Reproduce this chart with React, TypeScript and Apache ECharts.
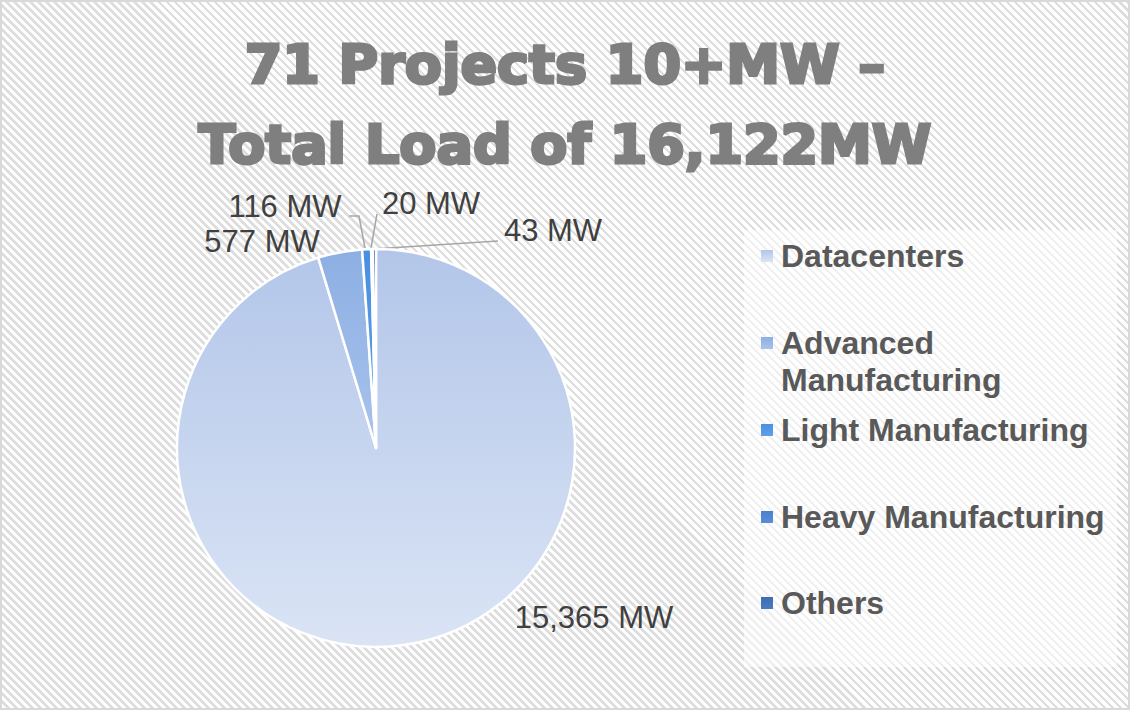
import React, { useEffect, useRef } from "react";
import * as echarts from "echarts";

const TITLE = "71 Projects 10+MW –\nTotal Load of 16,122MW";
const CATEGORIES = ["Datacenters", "Advanced Manufacturing", "Light Manufacturing", "Heavy Manufacturing", "Others"];
const VALUES = [15365, 577, 116, 20, 43];
const UNIT = "MW";
const COLORS_TOP = ["#b3c6e9", "#8cafe3", "#4a8fe0", "#4a7fcc", "#3f6db2"];
const COLORS_BOTTOM = ["#dae4f5", "#a9c3ec", "#62a0e8", "#5a8ed6", "#4c7bbf"];
const LEGEND_LABELS = ["Datacenters", "Advanced", "Light Manufacturing", "Heavy Manufacturing", "Others"];

// layout (label anchor positions and label-line points)
const LABEL_POS: [number, number][] = [[592, 615], [260, 239], [283, 204], [429, 201], [551, 228]];
const LABEL_LINES: (number[][] | null)[] = [
  null,
  null,
  [[363, 246], [357, 214], [347, 214]],
  [[369, 246], [375, 212]],
  [[371, 247], [496, 239]],
];
const LEGEND_Y = [254, 341, 428, 515, 601];

export default function App() {
  const ref = useRef<HTMLDivElement>(null);
  useEffect(() => {
    if (!ref.current) return;
    const chart = echarts.init(ref.current, null, { renderer: "svg" });
    const grad = (i: number) =>
      new echarts.graphic.LinearGradient(0, 0, 0, 1, [
        { offset: 0, color: COLORS_TOP[i] },
        { offset: 1, color: COLORS_BOTTOM[i] },
      ]);
    const data = CATEGORIES.map((name, i) => ({
      name,
      value: VALUES[i],
      itemStyle: { color: grad(i) },
      labelLine: { show: LABEL_LINES[i] !== null },
    }));
    const legends = CATEGORIES.map((name, i) => ({
      data: [name],
      left: 759,
      top: LEGEND_Y[i] - 18,
      padding: 0,
      orient: "vertical",
      icon: "rect",
      itemWidth: 12,
      itemHeight: 12,
      selectedMode: false,
      itemStyle: { borderWidth: 0 },
      formatter: () => LEGEND_LABELS[i],
      textStyle: {
        fontFamily: "Liberation Sans, Arial, sans-serif",
        fontWeight: "bold",
        fontSize: 32,
        lineHeight: 36,
        color: "#595959",
        padding: [0, 0, 0, 3],
      },
    }));
    chart.setOption({
      animation: false,
      backgroundColor: "transparent",
      title: {
        text: TITLE,
        left: "center",
        top: 17,
        textStyle: {
          fontFamily: "DejaVu Sans",
          fontWeight: "bold",
          fontSize: 54,
          lineHeight: 80,
          color: "#7f7f7f",
          textBorderColor: "#7f7f7f",
          textBorderWidth: 3,
        },
      },
      legend: legends,
      graphic: [
        {
          type: "rect",
          left: 742,
          top: 228,
          shape: { width: 373, height: 437 },
          style: { fill: "rgba(255,255,255,0.55)" },
          z: -1,
        },
        {
          type: "text",
          left: 779,
          top: 362,
          style: {
            text: "Manufacturing",
            font: "bold 32px 'Liberation Sans', Arial, sans-serif",
            fill: "#595959",
          },
        },
      ],
      series: [
        {
          type: "pie",
          center: [374, 446],
          radius: [0, 199],
          startAngle: 90,
          clockwise: true,
          data,
          itemStyle: { borderColor: "#ffffff", borderWidth: 2.5 },
          label: {
            show: true,
            formatter: (p: any) => `${Number(p.value).toLocaleString("en-US")} ${UNIT}`,
            fontFamily: "Liberation Sans, Arial, sans-serif",
            fontSize: 31,
            color: "#404040",
          },
          labelLine: { show: true, lineStyle: { color: "#a6a6a6", width: 1.5 } },
          labelLayout: (params: any) => {
            const i = params.dataIndex;
            const out: any = {
              x: LABEL_POS[i][0],
              y: LABEL_POS[i][1],
              align: "center",
              verticalAlign: "middle",
            };
            if (LABEL_LINES[i]) out.labelLinePoints = LABEL_LINES[i];
            return out;
          },
          emphasis: { disabled: true },
        },
      ],
    });
    return () => chart.dispose();
  }, []);
  return (
    <div
      style={{
        position: "absolute",
        left: 0,
        top: 0,
        width: 1130,
        height: 710,
        boxSizing: "border-box",
        border: "2px solid #d9d9d9",
        background:
          "repeating-linear-gradient(45deg, #ffffff 0px, #ffffff 3.2px, #dedede 3.2px, #dedede 5.66px)",
      }}
    >
      <div ref={ref} style={{ width: 1126, height: 706 }} />
    </div>
  );
}
